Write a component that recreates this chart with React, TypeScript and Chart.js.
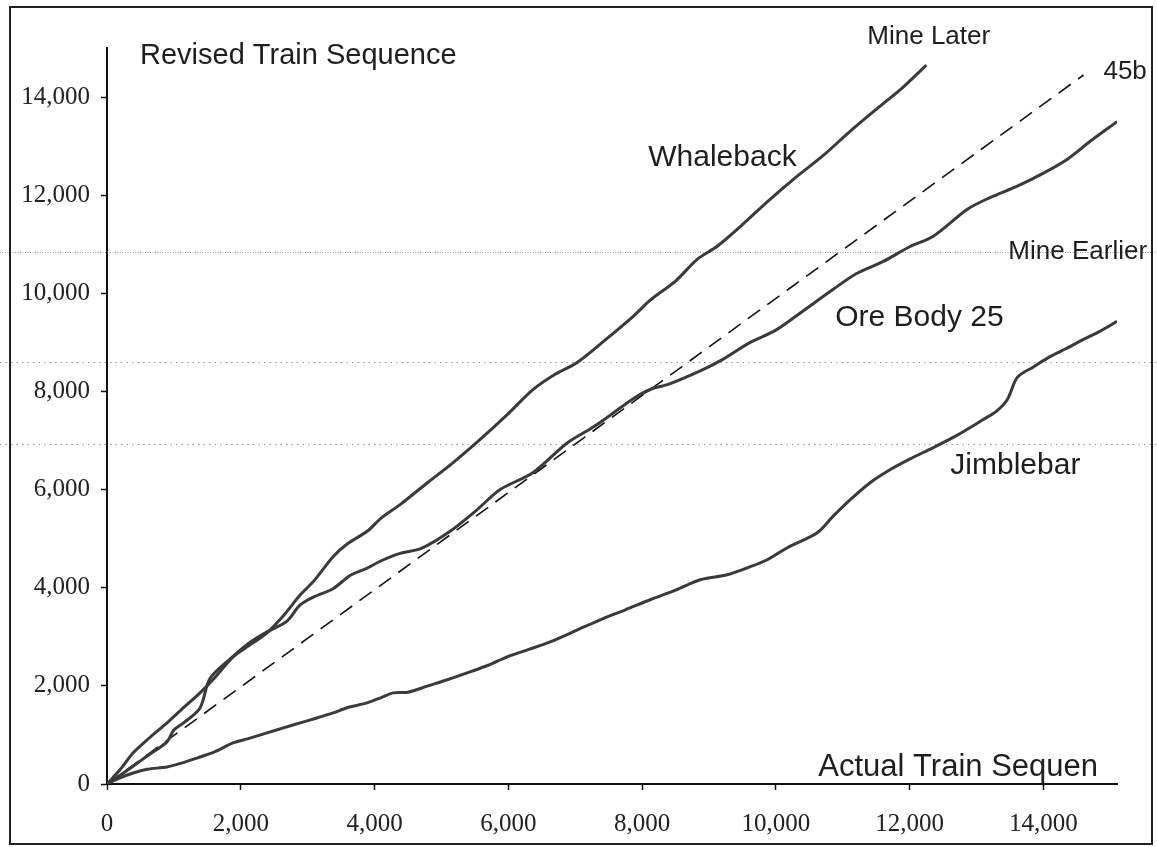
import React, { useEffect, useRef } from "react";
import { Chart, registerables } from "chart.js";
Chart.register(...registerables);

// ---- Data (Actual train sequence -> Revised train sequence) ----
const whalebackX = [0, 200, 389, 600, 897, 1100, 1391, 1600, 1885, 2100, 2393, 2650, 2887, 3100, 3380, 3600, 3889, 4100, 4382, 4800, 5175, 5600, 6000, 6372, 6700, 7030, 7450, 7867, 8121, 8500, 8824, 9123, 9500, 9900, 10320, 10700, 11113, 11500, 11900, 12250];
const whalebackY = [0, 300, 633, 900, 1245, 1500, 1857, 2150, 2592, 2800, 3082, 3450, 3850, 4150, 4633, 4900, 5150, 5420, 5694, 6150, 6551, 7050, 7550, 8041, 8350, 8592, 9050, 9531, 9860, 10250, 10694, 10959, 11400, 11900, 12388, 12800, 13306, 13750, 14200, 14650];

const oreBodyX = [0, 200, 389, 600, 897, 1000, 1150, 1391, 1540, 1885, 2100, 2393, 2692, 2887, 3100, 3380, 3634, 3889, 4100, 4382, 4700, 5130, 5500, 5878, 6372, 6880, 7300, 7867, 8121, 8400, 8869, 9200, 9617, 10000, 10365, 10858, 11200, 11606, 12000, 12354, 12863, 13200, 13610, 14000, 14358, 14700, 15100];
const oreBodyY = [0, 180, 360, 570, 860, 1100, 1250, 1550, 2150, 2600, 2850, 3100, 3320, 3650, 3820, 3980, 4250, 4400, 4550, 4700, 4800, 5150, 5550, 6000, 6350, 6950, 7300, 7850, 8040, 8150, 8420, 8650, 9000, 9250, 9600, 10082, 10400, 10650, 10950, 11163, 11714, 11950, 12184, 12450, 12735, 13100, 13500];

const jimblebarX = [0, 150, 389, 600, 897, 1100, 1391, 1600, 1885, 2100, 2393, 2650, 2887, 3100, 3380, 3600, 3889, 4100, 4278, 4500, 4800, 5100, 5384, 5700, 5983, 6300, 6626, 7000, 7374, 7750, 8122, 8500, 8869, 9273, 9600, 9871, 10170, 10619, 10850, 11113, 11400, 11711, 12000, 12354, 12700, 13102, 13300, 13461, 13610, 13850, 14104, 14350, 14598, 14850, 15100];
const jimblebarY = [0, 100, 224, 300, 347, 420, 551, 650, 837, 920, 1041, 1150, 1245, 1330, 1449, 1560, 1653, 1760, 1857, 1870, 2000, 2130, 2265, 2420, 2592, 2740, 2898, 3120, 3347, 3550, 3755, 3950, 4163, 4265, 4420, 4571, 4816, 5122, 5450, 5796, 6130, 6408, 6620, 6857, 7100, 7429, 7600, 7837, 8286, 8500, 8714, 8880, 9061, 9230, 9429];

const line45X = [0, 14600];
const line45Y = [0, 14450];

const xTicks = [0, 2000, 4000, 6000, 8000, 10000, 12000, 14000];
const yTicks = [0, 2000, 4000, 6000, 8000, 10000, 12000, 14000];

// faint scan lines across the page (in y-axis units)
const scanLineValues = [10840, 8610, 6920];

const toPoints = (xs: number[], ys: number[]) => xs.map((x, i) => ({ x, y: ys[i] }));

const textLabels = [
  { text: "Revised Train Sequence", x: 494, y: 14840, size: 29 },
  { text: "Mine Later", x: 11367, y: 15223, size: 26 },
  { text: "45b", x: 14897, y: 14510, size: 26 },
  { text: "Whaleback", x: 8092, y: 12757, size: 30 },
  { text: "Mine Earlier", x: 13476, y: 10842, size: 26 },
  { text: "Ore Body 25", x: 10888, y: 9497, size: 30 },
  { text: "Jimblebar", x: 12608, y: 6481, size: 30 },
  { text: "Actual Train Sequen", x: 10634, y: 330, size: 31 },
];

const decorPlugin = {
  id: "decor",
  beforeDatasetsDraw(chart: any) {
    const ctx = chart.ctx;
    const ys = chart.scales.y;
    ctx.save();
    ctx.strokeStyle = "#9a9a9a";
    ctx.lineWidth = 1;
    scanLineValues.forEach((v, i) => {
      const py = Math.round(ys.getPixelForValue(v)) + 0.5;
      ctx.setLineDash(i === 0 ? [1, 1.5] : [1.5, 4]);
      ctx.beginPath();
      ctx.moveTo(0, py);
      ctx.lineTo(chart.width, py);
      ctx.stroke();
    });
    ctx.restore();
  },
  afterDraw(chart: any) {
    const ctx = chart.ctx;
    const xs = chart.scales.x;
    const ys = chart.scales.y;
    ctx.save();
    // outer frame
    ctx.strokeStyle = "#222";
    ctx.lineWidth = 2;
    ctx.setLineDash([]);
    ctx.strokeRect(10, 7, chart.width - 15, chart.height - 10);
    // labels
    ctx.fillStyle = "#1e1e1e";
    ctx.textAlign = "left";
    ctx.textBaseline = "middle";
    textLabels.forEach((l) => {
      ctx.font = `${l.size}px "Liberation Sans", Arial, sans-serif`;
      ctx.fillText(l.text, xs.getPixelForValue(l.x), ys.getPixelForValue(l.y));
    });
    ctx.restore();
  },
};

export default function App() {
  const ref = useRef<HTMLCanvasElement | null>(null);
  useEffect(() => {
    if (!ref.current) return;
    const lineStyle = {
      borderColor: "#3a3a3a",
      borderWidth: 3,
      pointRadius: 0,
      tension: 0.3,
      fill: false,
    };
    const chart = new Chart(ref.current, {
      type: "line",
      data: {
        datasets: [
          { label: "Whaleback", data: toPoints(whalebackX, whalebackY), ...lineStyle },
          { label: "Ore Body 25", data: toPoints(oreBodyX, oreBodyY), ...lineStyle },
          { label: "Jimblebar", data: toPoints(jimblebarX, jimblebarY), ...lineStyle },
          {
            label: "45b",
            data: toPoints(line45X, line45Y),
            borderColor: "#111",
            borderWidth: 1.6,
            borderDash: [15, 9],
            pointRadius: 0,
            fill: false,
          },
        ],
      },
      options: {
        animation: false,
        responsive: false,
        maintainAspectRatio: false,
        layout: { padding: { left: 0, right: 40, top: 48, bottom: 0 } },
        plugins: { legend: { display: false }, tooltip: { enabled: false } },
        scales: {
          x: {
            type: "linear",
            min: 0,
            max: 15100,
            afterBuildTicks: (s: any) => {
              s.ticks = xTicks.map((v) => ({ value: v }));
            },
            afterFit: (s: any) => {
              s.height = 63;
            },
            grid: { drawOnChartArea: false, drawTicks: true, tickLength: 6, color: "#111", tickWidth: 1.5 },
            border: { display: true, color: "#111", width: 2 },
            ticks: {
              includeBounds: false,
              padding: 19,
              maxRotation: 0,
              color: "#222",
              font: { family: '"Liberation Serif", "Times New Roman", serif', size: 25 },
              callback: (v: any) => Number(v).toLocaleString("en-US"),
            },
          },
          y: {
            type: "linear",
            min: 0,
            max: 15000,
            afterBuildTicks: (s: any) => {
              s.ticks = yTicks.map((v) => ({ value: v }));
            },
            afterFit: (s: any) => {
              s.width = 107;
            },
            grid: { drawOnChartArea: false, drawTicks: true, tickLength: 6, color: "#111", tickWidth: 1.5 },
            border: { display: true, color: "#111", width: 2 },
            ticks: {
              includeBounds: false,
              padding: 11,
              color: "#222",
              font: { family: '"Liberation Serif", "Times New Roman", serif', size: 25 },
              callback: (v: any) => Number(v).toLocaleString("en-US"),
            },
          },
        },
      },
      plugins: [decorPlugin],
    } as any);
    return () => chart.destroy();
  }, []);
  return (
    <div style={{ position: "fixed", left: 0, top: 0, width: 1157, height: 847, background: "#fff" }}>
      <canvas ref={ref} width={1157} height={847} style={{ width: 1157, height: 847, display: "block" }} />
    </div>
  );
}
